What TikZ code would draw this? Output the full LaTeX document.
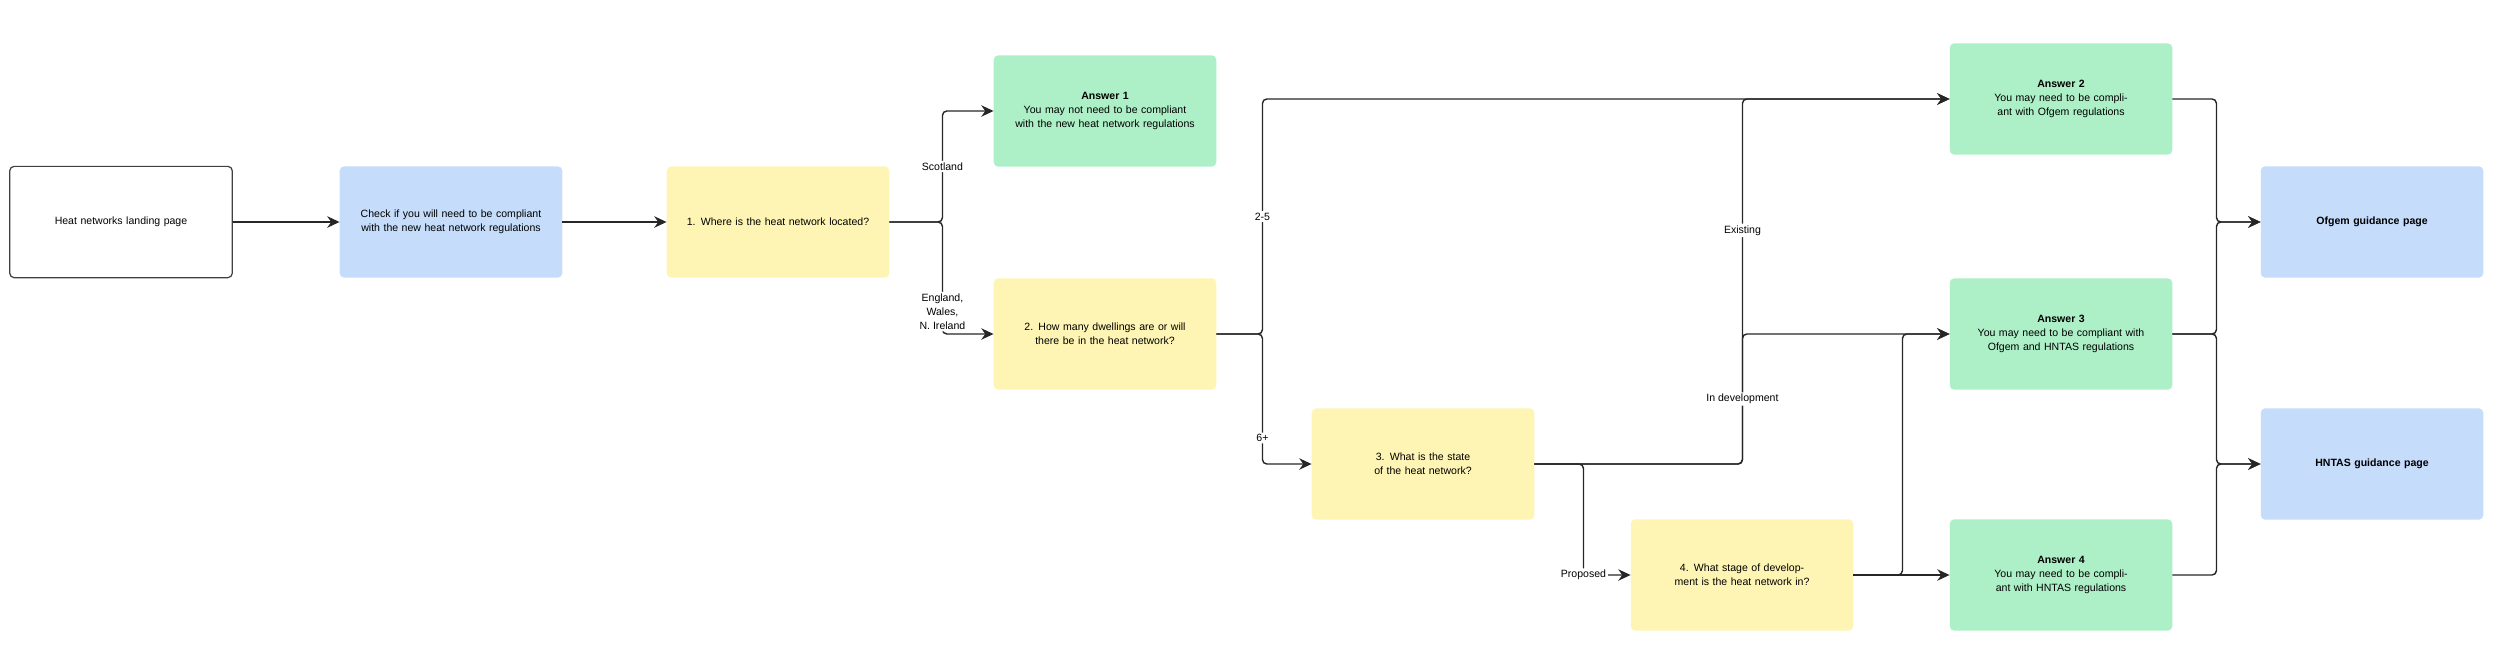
\documentclass[tikz,border=0pt]{standalone}
\usepackage{fontspec}
\setmainfont{Liberation Sans}
\usetikzlibrary{positioning,arrows.meta}

\definecolor{ansgreen}{HTML}{ADF0C7}
\definecolor{pageblue}{HTML}{C5DCFA}
\definecolor{qyellow}{HTML}{FEF5B5}
\tikzset{
  box/.style={rounded corners=5pt, minimum width=8.9cm, minimum height=4.45cm,
    text width=7.6cm, align=center, font=\fontsize{12}{16}\selectfont},
  start/.style={box, draw=black!75, line width=1.4pt},
  page/.style={box, fill=pageblue},
  question/.style={box, fill=qyellow},
  answer/.style={box, fill=ansgreen},
  flow/.style={draw=black!85, line width=1.6pt, rounded corners=5pt,
    -{Stealth[length=14pt, width=13pt]}},
  lbl/.style={fill=white, inner sep=2pt, font=\fontsize{12}{16}\selectfont, align=center}
}

\begin{document}
\begin{tikzpicture}[x=0.04cm, y=-0.04cm]
    \useasboundingbox (0,0) rectangle (2500,661);
    % Nodes
    \node[start] (landing) at (121,222) {Heat networks landing page};
    \node[page] (check) at (451,222) {Check if you will need to be compliant with the new heat network regulations};
    \node[question] (q1) at (778,222) {1. Where is the heat network located?};
    \node[answer] (ans1) at (1105,111) {\textbf{Answer 1}\\You may not need to be compliant with the new heat network regulations\\[16pt]};
    \node[question] (q2) at (1105,334) {2. How many dwellings are or will there be in the heat network?};
    \node[question] (q3) at (1423,464) {3. What is the state of the heat network?};
    \node[question] (q4) at (1742,575) {4. What stage of development is the heat network in?};
    \node[answer] (ans2) at (2061,99) {\textbf{Answer 2}\\You may need to be compliant with Ofgem regulations\\[16pt]};
    \node[answer] (ans3) at (2061,334) {\textbf{Answer 3}\\You may need to be compliant with Ofgem and HNTAS regulations\\[16pt]};
    \node[answer] (ans4) at (2061,575) {\textbf{Answer 4}\\You may need to be compliant with HNTAS regulations\\[16pt]};
    \node[page, font=\fontsize{12}{16}\selectfont\bfseries] (ofgem) at (2372,222) {Ofgem guidance page};
    \node[page, font=\fontsize{12}{16}\selectfont\bfseries] (hntas) at (2372,464) {HNTAS guidance page};

    % Arrows
    \draw[flow] (landing) -- (check);
    \draw[flow] (check) -- (q1);
    \draw[flow] (q1.east) -- ++(53,0) |- node[lbl, pos=0.25] {Scotland} (ans1);
    \draw[flow] (q1.east) -- ++(53,0) |- node[lbl, pos=0.4] {England,\\Wales,\\N. Ireland} (q2);
    \draw[flow] (q2.east) -- ++(46,0) |- node[lbl, pos=0.25] {2-5} (ans2);
    \draw[flow] (q2.east) -- ++(46,0) |- node[lbl, pos=0.4] {6+} (q3);
    \draw[flow] (q3.east) -- ++(208,0) |- node[lbl, pos=0.32] {Existing} (ans2);
    \draw[flow] (q3.east) -- ++(208,0) |- node[lbl, pos=0.25] {In development} (ans3);
    \draw[flow] (q3.east) -- ++(49,0) |- node[lbl, pos=0.5] {Proposed} (q4);
    \draw[flow] (q4) -- (ans4);
    \draw[flow] (q4.east) -- ++(49,0) |- (ans3);
    \draw[flow] (ans2.east) -- ++(44,0) |- (ofgem);
    \draw[flow] (ans3.east) -- ++(44,0) |- (ofgem);
    \draw[flow] (ans3.east) -- ++(44,0) |- (hntas);
    \draw[flow] (ans4.east) -- ++(44,0) |- (hntas);
\end{tikzpicture}
\end{document}
